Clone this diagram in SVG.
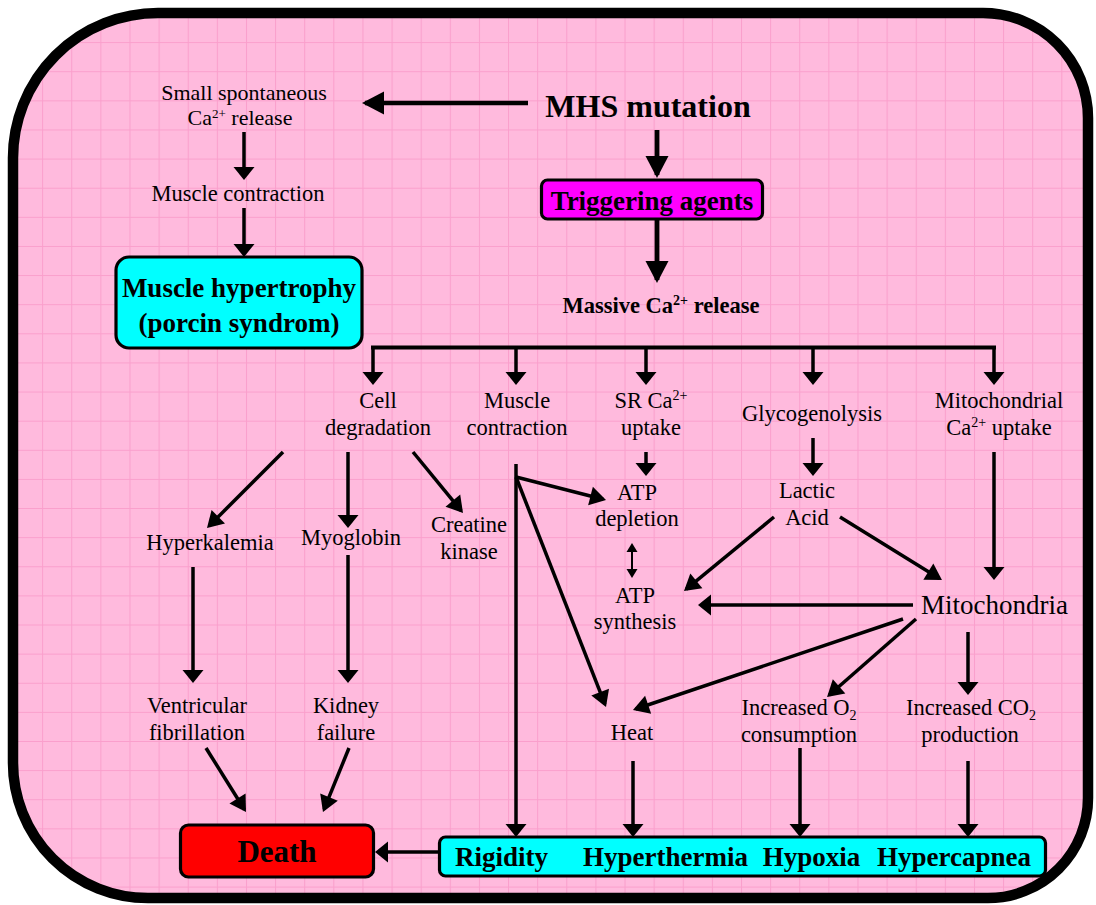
<svg xmlns="http://www.w3.org/2000/svg" width="1096" height="905" viewBox="0 0 1096 905">
<style>
.t{font-family:"Liberation Serif","Times New Roman",serif;font-size:22.5px;fill:#000;text-anchor:middle}
.b{font-weight:bold}
.box{stroke:#000;stroke-width:3.2}
#connectors line,#connectors path{stroke:#000;stroke-width:3.5;fill:none}
</style>
<defs>
<pattern id="grid" patternUnits="userSpaceOnUse" x="13" y="13" width="29.12" height="29.12">
<rect width="29.12" height="29.12" fill="#FFBADD"/>
<path d="M0,0.5 H29.12 M0.5,0 V29.12" stroke="#FA9FCC" stroke-width="1" fill="none"/>
</pattern>
<marker id="ah" markerUnits="userSpaceOnUse" markerWidth="13" markerHeight="21" refX="10" refY="10.5" orient="auto" overflow="visible"><path d="M0,0 L13,10.5 L0,21 Z" fill="#000"/></marker>
<marker id="ahD" markerUnits="userSpaceOnUse" markerWidth="16" markerHeight="19" refX="13" refY="9.5" orient="auto" overflow="visible"><path d="M0,0 L16,9.5 L0,19 Z" fill="#000"/></marker>
<marker id="ahL" markerUnits="userSpaceOnUse" markerWidth="22" markerHeight="23" refX="19" refY="11.5" orient="auto" overflow="visible"><path d="M0,0 L22,11.5 L0,23 Z" fill="#000"/></marker>
<marker id="ahS" markerUnits="userSpaceOnUse" markerWidth="9" markerHeight="11" refX="7" refY="5.5" orient="auto-start-reverse" overflow="visible"><path d="M0,0 L9,5.5 L0,11 Z" fill="#000"/></marker>
</defs>

<g id="frame">
<path d="M158,13 H983 A105,105 0 0 1 1088,118 V798 A100,100 0 0 1 988,898 H148 A135,135 0 0 1 13,763 V158 A145,145 0 0 1 158,13 Z" fill="url(#grid)" stroke="#000" stroke-width="10.5"/>
</g>

<g id="connectors">
<line x1="528" y1="103" x2="365" y2="103" marker-end="url(#ahL)" style="stroke-width:4.5"/>
<line x1="657" y1="130" x2="657" y2="175" marker-end="url(#ahL)" style="stroke-width:4.8"/>
<line x1="657" y1="219" x2="657" y2="280" marker-end="url(#ahL)" style="stroke-width:4.8"/>
<line x1="244" y1="132" x2="244" y2="177" marker-end="url(#ah)"/>
<line x1="244" y1="208" x2="244" y2="254" marker-end="url(#ah)"/>
<path d="M373,347.5 H994" style="stroke-width:4;stroke-linecap:square"/>
<line x1="373" y1="347.5" x2="373" y2="382" marker-end="url(#ah)"/>
<line x1="516" y1="347.5" x2="516" y2="382" marker-end="url(#ah)"/>
<line x1="646" y1="347.5" x2="646" y2="382" marker-end="url(#ah)"/>
<line x1="813" y1="347.5" x2="813" y2="382" marker-end="url(#ah)"/>
<line x1="994" y1="347.5" x2="994" y2="382" marker-end="url(#ah)"/>
<line x1="646" y1="452" x2="646" y2="473" marker-end="url(#ah)"/>
<line x1="516" y1="464" x2="516" y2="834" marker-end="url(#ah)"/>
<line x1="516" y1="477" x2="603.1" y2="499.3" marker-end="url(#ahD)"/>
<line x1="516" y1="477" x2="604.9" y2="704.2" marker-end="url(#ahD)"/>
<line x1="632" y1="545" x2="632" y2="576" marker-start="url(#ahS)" marker-end="url(#ahS)" style="stroke-width:2"/>
<line x1="813" y1="438" x2="813" y2="473" marker-end="url(#ah)"/>
<line x1="774" y1="517" x2="686.3" y2="589.1" marker-end="url(#ahD)"/>
<line x1="840" y1="517" x2="939.4" y2="578.4" marker-end="url(#ahD)"/>
<line x1="994" y1="452" x2="994" y2="577" marker-end="url(#ah)"/>
<line x1="913" y1="605" x2="701" y2="605" marker-end="url(#ah)"/>
<line x1="903" y1="619" x2="635.8" y2="709" marker-end="url(#ahD)"/>
<line x1="916" y1="619" x2="829.3" y2="695" marker-end="url(#ahD)"/>
<line x1="968" y1="632" x2="968" y2="692" marker-end="url(#ah)"/>
<line x1="633" y1="761" x2="633" y2="834" marker-end="url(#ah)"/>
<line x1="800" y1="748" x2="800" y2="834" marker-end="url(#ah)"/>
<line x1="968" y1="761" x2="968" y2="834" marker-end="url(#ah)"/>
<line x1="283" y1="452" x2="209.1" y2="525.9" marker-end="url(#ahD)"/>
<line x1="348" y1="452" x2="348" y2="525" marker-end="url(#ah)"/>
<line x1="413" y1="452" x2="461.1" y2="510.7" marker-end="url(#ahD)"/>
<line x1="193" y1="567" x2="193" y2="680" marker-end="url(#ah)"/>
<line x1="348" y1="555" x2="348" y2="680" marker-end="url(#ah)"/>
<line x1="206" y1="748" x2="244.4" y2="809.5" marker-end="url(#ahD)"/>
<line x1="349" y1="748" x2="324.1" y2="809.2" marker-end="url(#ahD)"/>
<line x1="439" y1="852" x2="378" y2="852" marker-end="url(#ah)"/>
</g>

<g id="mhs"><text class="t b" x="648" y="117" style="font-size:32px">MHS mutation</text></g>
<g id="small-release"><text class="t" x="244" y="100" style="font-size:22px">Small spontaneous</text><text class="t" x="240" y="125" style="font-size:22px">Ca<tspan font-size="13" dy="-7">2+</tspan><tspan dy="7"> release</tspan></text></g>
<g id="muscle-contraction-left"><text class="t" x="238" y="201">Muscle contraction</text></g>
<g id="hypertrophy"><rect class="box" x="116" y="257" width="246" height="91" rx="13" fill="#00FFFF"/><text class="t b" x="239" y="297" style="font-size:27px">Muscle hypertrophy</text><text class="t b" x="239" y="332" style="font-size:27px">(porcin syndrom)</text></g>
<g id="triggering"><rect class="box" x="541.5" y="180" width="221" height="39" rx="6" fill="#FF00FF"/><text class="t b" x="652" y="210" style="font-size:27px">Triggering agents</text></g>
<g id="massive"><text class="t b" x="661" y="313" style="font-size:22.5px">Massive Ca<tspan font-size="14" dy="-8">2+</tspan><tspan dy="8"> release</tspan></text></g>
<g id="cell-degradation"><text class="t" x="378" y="408">Cell</text><text class="t" x="378" y="435">degradation</text></g>
<g id="muscle-contraction"><text class="t" x="517" y="408">Muscle</text><text class="t" x="517" y="435">contraction</text></g>
<g id="sr-uptake"><text class="t" x="651" y="408">SR Ca<tspan font-size="14" dy="-8">2+</tspan></text><text class="t" x="651" y="435">uptake</text></g>
<g id="glycogenolysis"><text class="t" x="812" y="421">Glycogenolysis</text></g>
<g id="mito-uptake"><text class="t" x="999" y="408">Mitochondrial</text><text class="t" x="999" y="435">Ca<tspan font-size="14" dy="-8">2+</tspan><tspan dy="8"> uptake</tspan></text></g>
<g id="atp-depletion"><text class="t" x="637" y="500">ATP</text><text class="t" x="637" y="526">depletion</text></g>
<g id="lactic"><text class="t" x="807" y="498">Lactic</text><text class="t" x="807" y="525">Acid</text></g>
<g id="atp-synthesis"><text class="t" x="635" y="603">ATP</text><text class="t" x="635" y="629">synthesis</text></g>
<g id="mitochondria"><text class="t" x="994.5" y="614" style="font-size:27px">Mitochondria</text></g>
<g id="hyperkalemia"><text class="t" x="210" y="550">Hyperkalemia</text></g>
<g id="myoglobin"><text class="t" x="351" y="545">Myoglobin</text></g>
<g id="creatine"><text class="t" x="469" y="532">Creatine</text><text class="t" x="469" y="559">kinase</text></g>
<g id="ventricular"><text class="t" x="197" y="713">Ventricular</text><text class="t" x="197" y="740">fibrillation</text></g>
<g id="kidney"><text class="t" x="346" y="713">Kidney</text><text class="t" x="346" y="740">failure</text></g>
<g id="heat"><text class="t" x="632" y="740">Heat</text></g>
<g id="o2"><text class="t" x="799" y="715">Increased O<tspan font-size="14" dy="5">2</tspan></text><text class="t" x="799" y="742">consumption</text></g>
<g id="co2"><text class="t" x="971" y="715">Increased CO<tspan font-size="14" dy="5">2</tspan></text><text class="t" x="970" y="742">production</text></g>
<g id="death"><rect class="box" x="180.5" y="825" width="193" height="52" rx="8" fill="#FF0000"/><text class="t b" x="277" y="862" style="font-size:31px">Death</text></g>
<g id="outcomes"><rect class="box" x="439.5" y="837" width="606" height="39" rx="6" fill="#00FFFF"/><text class="t b" x="501.5" y="866" style="font-size:27px">Rigidity</text><text class="t b" x="665.5" y="866" style="font-size:27px">Hyperthermia</text><text class="t b" x="811.5" y="866" style="font-size:27px">Hypoxia</text><text class="t b" x="954" y="866" style="font-size:27px">Hypercapnea</text></g>
</svg>
